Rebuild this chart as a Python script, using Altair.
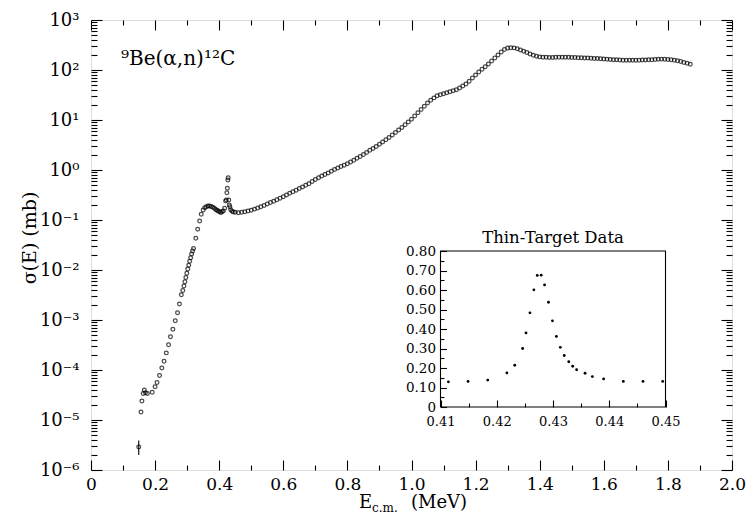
import altair as alt
import pandas as pd

# ---------------- data ----------------
E_LOW = [0.156, 0.159, 0.163, 0.1665, 0.170, 0.176, 0.191, 0.200, 0.206, 0.214,
         0.221, 0.228, 0.235, 0.242, 0.248, 0.2555, 0.263, 0.270, 0.276, 0.282,
         0.2865, 0.290, 0.293, 0.296, 0.299, 0.302, 0.305, 0.308, 0.311, 0.314,
         0.317, 0.320, 0.327, 0.333, 0.339, 0.344, 0.350, 0.355, 0.360, 0.365,
         0.370, 0.375, 0.380, 0.385, 0.389, 0.393, 0.397, 0.401, 0.405, 0.409,
         0.413, 0.417, 0.420, 0.4225, 0.424, 0.4255, 0.427, 0.428, 0.430, 0.4315,
         0.4335, 0.436, 0.440, 0.444]
SIG_LOW = [1.45e-5, 2.4e-5, 3.4e-5, 4.0e-5, 3.5e-5, 3.4e-5, 3.6e-5, 4.6e-5, 5.6e-5, 7.8e-5,
           1.1e-4, 1.5e-4, 2.2e-4, 3.2e-4, 4.6e-4, 6.5e-4, 9.7e-4, 1.4e-3, 2.1e-3, 3.2e-3,
           3.9e-3, 4.8e-3, 5.8e-3, 7.1e-3, 8.6e-3, 1.05e-2, 1.25e-2, 1.5e-2, 1.75e-2, 2.1e-2,
           2.4e-2, 2.7e-2, 4.3e-2, 6.5e-2, 9.5e-2, 0.13, 0.158, 0.175, 0.185, 0.19,
           0.19, 0.186, 0.179, 0.171, 0.163, 0.157, 0.151, 0.146, 0.142, 0.146,
           0.152, 0.171, 0.24, 0.25, 0.35, 0.43, 0.63, 0.70, 0.25, 0.20,
           0.185, 0.16, 0.15, 0.145]

E_HIGH = [0.45, 0.46, 0.47, 0.48, 0.49, 0.50, 0.51, 0.52, 0.53, 0.54,
          0.55, 0.56, 0.57, 0.58, 0.59, 0.60, 0.61, 0.62, 0.63, 0.64,
          0.65, 0.66, 0.67, 0.68, 0.69, 0.70, 0.71, 0.72, 0.73, 0.74,
          0.75, 0.76, 0.77, 0.78, 0.79, 0.80, 0.81, 0.82, 0.83, 0.84,
          0.85, 0.86, 0.87, 0.88, 0.89, 0.90, 0.91, 0.92, 0.93, 0.94,
          0.95, 0.96, 0.97, 0.98, 0.99, 1.00, 1.01, 1.02, 1.03, 1.04,
          1.05, 1.06, 1.07, 1.08, 1.09, 1.10, 1.11, 1.12, 1.13, 1.14,
          1.15, 1.16, 1.17, 1.18, 1.19, 1.20, 1.21, 1.22, 1.23, 1.24,
          1.25, 1.26, 1.27, 1.28, 1.29, 1.30, 1.31, 1.32, 1.33, 1.34,
          1.35, 1.36, 1.37, 1.38, 1.39, 1.40, 1.41, 1.42, 1.43, 1.44,
          1.45, 1.46, 1.47, 1.48, 1.49, 1.50, 1.51, 1.52, 1.53, 1.54,
          1.55, 1.56, 1.57, 1.58, 1.59, 1.60, 1.61, 1.62, 1.63, 1.64,
          1.65, 1.66, 1.67, 1.68, 1.69, 1.70, 1.71, 1.72, 1.73, 1.74,
          1.75, 1.76, 1.77, 1.78, 1.79, 1.80, 1.81, 1.82, 1.83, 1.84,
          1.85, 1.86, 1.87]
SIG_HIGH = [0.143, 0.140, 0.143, 0.147, 0.152, 0.157, 0.165, 0.174, 0.184, 0.196,
            0.210, 0.224, 0.237, 0.253, 0.272, 0.293, 0.316, 0.341, 0.366, 0.394,
            0.427, 0.457, 0.493, 0.533, 0.586, 0.646, 0.700, 0.755, 0.813, 0.875,
            0.944, 1.02, 1.10, 1.17, 1.24, 1.34, 1.45, 1.57, 1.71, 1.87,
            2.05, 2.25, 2.47, 2.70, 2.96, 3.27, 3.63, 4.03, 4.49, 5.01,
            5.62, 6.31, 7.11, 8.07, 9.16, 10.4, 12.0, 14.0, 16.3, 18.9,
            21.8, 24.7, 27.7, 30.4, 32.0, 33.5, 35.1, 36.7, 38.5, 40.3,
            43.7, 47.9, 52.2, 59.6, 69.2, 79.4, 91.2, 104, 116, 132,
            151, 174, 200, 229, 257, 274, 280, 277, 266, 251,
            237, 224, 210, 197, 188, 183, 180, 179, 178, 178,
            179, 179, 179, 179, 179, 178, 177, 176, 175, 174,
            173, 172, 170, 169, 167, 166, 164, 163, 161, 160,
            158, 157, 157, 156, 156, 157, 157, 158, 158, 160,
            161, 163, 164, 165, 164, 163, 161, 157, 153, 148,
            142, 136, 130]

ERR_E = [0.149]
ERR_SIG = [2.9e-6]
ERR_LO = [2.0e-6]
ERR_HI = [3.9e-6]

INSET_E = [0.4114, 0.4149, 0.4184, 0.4218, 0.4232, 0.4246, 0.4252, 0.4259, 0.4266, 0.4272,
           0.4279, 0.4285, 0.4292, 0.4299, 0.4306, 0.4313, 0.4320, 0.4328, 0.4335, 0.4342,
           0.4357, 0.4370, 0.4390, 0.4425, 0.4460, 0.4495]
INSET_SIG = [0.129, 0.131, 0.138, 0.175, 0.214, 0.300, 0.380, 0.483, 0.601, 0.675,
             0.676, 0.626, 0.537, 0.442, 0.362, 0.306, 0.264, 0.232, 0.209, 0.191,
             0.173, 0.156, 0.144, 0.131, 0.131, 0.131]

X_LABELS = [0, 0.2, 0.4, 0.6, 0.8, 1.0, 1.2, 1.4, 1.6, 1.8, 2.0]
X_TICKS = [0, 0.1, 0.2, 0.3, 0.4, 0.5, 0.6, 0.7, 0.8, 0.9, 1.0,
           1.1, 1.2, 1.3, 1.4, 1.5, 1.6, 1.7, 1.8, 1.9, 2.0]
Y_DECADES = [1e-6, 1e-5, 1e-4, 1e-3, 1e-2, 1e-1, 1e0, 1e1, 1e2, 1e3]
Y_DECADE_TEXT = ["10⁻⁶", "10⁻⁵", "10⁻⁴", "10⁻³", "10⁻²", "10⁻¹", "10⁰", "10¹", "10²", "10³"]
Y_TICKS = [m * d for d in Y_DECADES[:-1] for m in range(1, 10)] + [Y_DECADES[-1]]
IX_LABELS = [0.41, 0.42, 0.43, 0.44, 0.45]
IX_TICKS = [0.41, 0.415, 0.42, 0.425, 0.43, 0.435, 0.44, 0.445, 0.45]
IY_LABELS = [0, 0.1, 0.2, 0.3, 0.4, 0.5, 0.6, 0.7, 0.8]
IY_TICKS = [0, 0.05, 0.1, 0.15, 0.2, 0.25, 0.3, 0.35, 0.4, 0.45, 0.5, 0.55, 0.6,
            0.65, 0.7, 0.75, 0.8]

# ---------------- layout / style ----------------
W, H = 641, 450
PAD_L = 83
FONT = "DejaVu Serif"
IX_RANGE = [349.5, 574.5]
IY_RANGE = [387, 231]

main_df = pd.DataFrame({"E": E_LOW + E_HIGH, "sigma": SIG_LOW + SIG_HIGH})
err_df = pd.DataFrame({"E": ERR_E, "sigma": ERR_SIG, "lo": ERR_LO, "hi": ERR_HI})
inset_df = pd.DataFrame({"E": INSET_E, "sigma": INSET_SIG})
frame_df = pd.DataFrame({"x0": [IX_LABELS[0]], "x1": [IX_LABELS[-1]],
                         "y0": [IY_LABELS[0]], "y1": [IY_LABELS[-1]]})

xs = alt.Scale(domain=[0, 2], nice=False, zero=False)
ys = alt.Scale(type="log", domain=[1e-6, 1e3], nice=False)
ixs = alt.Scale(domain=[0.41, 0.45], range=IX_RANGE, nice=False, zero=False)
iys = alt.Scale(domain=[0, 0.8], range=IY_RANGE, nice=False, zero=False)

X_MAJOR = "abs(datum.value*5 - round(datum.value*5)) < 0.001"
Y_MAJOR = "abs(log(datum.value)/LN10 - round(log(datum.value)/LN10)) < 0.001"
IX_MAJOR = "abs(datum.value*100 - round(datum.value*100)) < 0.001"
IY_MAJOR = "abs(datum.value*10 - round(datum.value*10)) < 0.001"


def tick_axis(orient, offset, values, test, major, minor):
    return alt.Axis(orient=orient, offset=offset, values=values, labels=False,
                    domain=False, grid=False, title=None, tickColor="black",
                    tickWidth=1.1,
                    tickSize={"condition": {"test": test, "value": major}, "value": minor})


def label_axis(orient, offset, values, expr, size, pad):
    return alt.Axis(orient=orient, offset=offset, values=values, ticks=False,
                    domain=False, grid=False, title=None, labelFont=FONT,
                    labelFontSize=size, labelColor="black", labelPadding=pad,
                    labelExpr=expr, labelOverlap=False, labelFlush=False,
                    labelBound=False)


y_expr = "[" + ",".join("'" + t + "'" for t in Y_DECADE_TEXT) + "][round(log(datum.value)/LN10)+6]"

points = alt.Chart(main_df).mark_point(
    shape="circle", filled=False, size=14, strokeWidth=1.25, color="black"
).encode(
    x=alt.X("E:Q", scale=xs,
            axis=label_axis("bottom", 0, X_LABELS,
                            "datum.value == 0 ? '0' : format(datum.value, '.1f')", 17, 6)),
    y=alt.Y("sigma:Q", scale=ys,
            axis=label_axis("left", 0, Y_DECADES, y_expr, 18, 12)),
)

ticks_in_a = alt.Chart(main_df).mark_point(opacity=0).encode(
    x=alt.X("E:Q", scale=xs, axis=tick_axis("top", -H, X_TICKS, X_MAJOR, 10, 5)),
    y=alt.Y("sigma:Q", scale=ys, axis=tick_axis("right", -W, Y_TICKS, Y_MAJOR, 11, 6)),
)
ticks_in_b = alt.Chart(main_df).mark_point(opacity=0).encode(
    x=alt.X("E:Q", scale=xs, axis=tick_axis("bottom", -H, X_TICKS, X_MAJOR, 10, 5)),
    y=alt.Y("sigma:Q", scale=ys, axis=tick_axis("left", -W, Y_TICKS, Y_MAJOR, 11, 6)),
)

err_bar = alt.Chart(err_df).mark_rule(color="black", strokeWidth=1.1).encode(
    x=alt.X("E:Q", scale=xs, axis=None),
    y=alt.Y("lo:Q", scale=ys, axis=None),
    y2="hi:Q",
)
err_pt = alt.Chart(err_df).mark_point(
    shape="circle", filled=False, size=14, strokeWidth=1.25, color="black"
).encode(
    x=alt.X("E:Q", scale=xs, axis=None),
    y=alt.Y("sigma:Q", scale=ys, axis=None),
)

reaction = alt.Chart(pd.DataFrame({"t": ["⁹Be(α,n)¹²C"]})).mark_text(
    font=FONT, fontSize=20, align="left", baseline="alphabetic", color="black"
).encode(text="t:N", x=alt.value(30), y=alt.value(45))

ytitle = alt.Chart(pd.DataFrame({"t": ["σ(E) (mb)"]})).mark_text(
    font=FONT, fontSize=19, align="center", baseline="middle", angle=270, color="black"
).encode(text="t:N", x=alt.value(-61), y=alt.value(218))

xt_E = alt.Chart(pd.DataFrame({"t": ["E"]})).mark_text(
    font=FONT, fontSize=18, align="left", baseline="alphabetic", color="black"
).encode(text="t:N", x=alt.value(268), y=alt.value(488))
xt_sub = alt.Chart(pd.DataFrame({"t": ["c.m."]})).mark_text(
    font=FONT, fontSize=12, align="left", baseline="alphabetic", color="black"
).encode(text="t:N", x=alt.value(281), y=alt.value(492))
xt_unit = alt.Chart(pd.DataFrame({"t": ["(MeV)"]})).mark_text(
    font=FONT, fontSize=18, align="left", baseline="alphabetic", color="black"
).encode(text="t:N", x=alt.value(320), y=alt.value(488))

# ---------------- inset ----------------
frame = alt.Chart(frame_df).mark_rect(
    fill="white", fillOpacity=0, stroke="black", strokeWidth=1.1
).encode(
    x=alt.X("x0:Q", scale=ixs, axis=None), x2="x1:Q",
    y=alt.Y("y0:Q", scale=iys, axis=None), y2="y1:Q",
)

inset_pts = alt.Chart(inset_df).mark_point(
    shape="circle", filled=True, size=8, color="black", opacity=1
).encode(
    x=alt.X("E:Q", scale=ixs,
            axis=label_axis("bottom", -(H - IY_RANGE[0]), IX_LABELS,
                            "format(datum.value, '.2f')", 13, 8)),
    y=alt.Y("sigma:Q", scale=iys,
            axis=label_axis("left", -IX_RANGE[0], IY_LABELS,
                            "datum.value == 0 ? '0' : format(datum.value, '.2f')", 13.5, 5)),
)

inset_ticks = alt.Chart(inset_df).mark_point(opacity=0).encode(
    x=alt.X("E:Q", scale=ixs, axis=tick_axis("top", -IY_RANGE[0], IX_TICKS, IX_MAJOR, 7, 4)),
    y=alt.Y("sigma:Q", scale=iys,
            axis=tick_axis("right", -(W - IX_RANGE[0]), IY_TICKS, IY_MAJOR, 6, 3.5)),
)

inset_title = alt.Chart(pd.DataFrame({"t": ["Thin-Target Data"]})).mark_text(
    font=FONT, fontSize=16.5, align="center", baseline="alphabetic", color="black"
).encode(text="t:N", x=alt.value((IX_RANGE[0] + IX_RANGE[1]) / 2), y=alt.value(IY_RANGE[1] - 8))

chart = alt.layer(
    points, ticks_in_a, ticks_in_b, err_bar, err_pt, reaction, ytitle,
    xt_E, xt_sub, xt_unit, frame, inset_pts, inset_ticks, inset_title,
).resolve_scale(x="independent", y="independent").properties(
    width=W, height=H,
    autosize=alt.AutoSizeParams(type="none"),
    padding={"left": PAD_L, "top": 12, "right": 14, "bottom": 46},
).configure_view(stroke="black", strokeWidth=1.3).configure(background="white")

chart.save("out.html", embed_options={"renderer": "svg", "actions": False})
